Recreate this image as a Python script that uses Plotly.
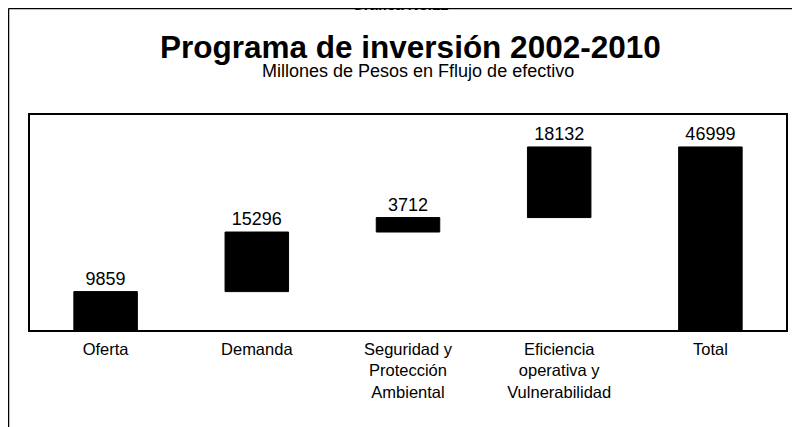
import plotly.graph_objects as go

categories = ["Oferta", "Demanda", "Seguridad y<br>Protección<br>Ambiental",
              "Eficiencia<br>operativa y<br>Vulnerabilidad", "Total"]
values = [9859, 15296, 3712, 18132, 46999]
measures = ["relative", "relative", "relative", "relative", "total"]
labels = ["9859", "15296", "3712", "18132", "46999"]

FONT = "Liberation Sans, Arial, sans-serif"

fig = go.Figure(go.Waterfall(
    x=categories,
    y=[9859, 15296, 3712, 18132, 0],
    measure=measures,
    text=labels,
    textposition="outside",
    textfont=dict(size=18, color="black", family=FONT),
    increasing=dict(marker=dict(color="black", line=dict(color="black", width=1))),
    totals=dict(marker=dict(color="black", line=dict(color="black", width=1))),
    connector=dict(visible=False),
    width=0.42,
    cliponaxis=False,
))

# page is drawn with an 8px body offset; plot area in page pixels: 30..786 x 115..330
OFF = 8
PL, PR, PT, PB = 30, 786, 115, 330
W, H = 800, 427
pw, ph = PR - PL, PB - PT

def px(x):
    return (x - PL) / pw

def py(y):
    return (PB - y) / ph

fig.update_layout(
    width=W, height=H,
    margin=dict(l=PL - OFF, r=W - (PR - OFF), t=PT - OFF, b=H - (PB - OFF)),
    paper_bgcolor="white", plot_bgcolor="white",
    showlegend=False,
    font=dict(family=FONT, color="black"),
    xaxis=dict(showline=True, mirror=True, linecolor="black", linewidth=2,
               showgrid=False, ticks="", tickfont=dict(size=16.5, family=FONT),
               ticklabelstandoff=3),
    yaxis=dict(range=[0, 55200], showline=True, mirror=True, linecolor="black",
               linewidth=2, showgrid=False, zeroline=False, showticklabels=False,
               ticks=""),
    shapes=[
        dict(type="line", xref="paper", yref="paper", x0=px(8.5), x1=px(8.5), y0=py(8.5), y1=py(440),
             line=dict(color="black", width=1.5)),
        dict(type="line", xref="paper", yref="paper", x0=px(8.5), x1=px(797), y0=py(8.5), y1=py(8.5),
             line=dict(color="black", width=1.5)),
        dict(type="line", xref="paper", yref="paper", x0=px(797), x1=px(797), y0=py(8.5), y1=py(440),
             line=dict(color="black", width=1.5)),
    ],
    annotations=[
        dict(text="<b>Programa de inversión 2002-2010</b>", xref="paper", yref="paper",
             x=px(410.5), y=py(47), showarrow=False, font=dict(size=31.5, family=FONT),
             xanchor="center", yanchor="middle"),
        dict(text="Millones de Pesos en Fflujo de efectivo", xref="paper", yref="paper",
             x=px(418.5), y=py(71), showarrow=False, font=dict(size=18, family=FONT),
             xanchor="center", yanchor="middle"),
        dict(text="<b>Gráfica No.12</b>", xref="paper", yref="paper",
             x=px(400), y=py(15), showarrow=False, font=dict(size=15, family=FONT),
             xanchor="center", yanchor="bottom"),
    ],
)

fig.write_html("out.html")
